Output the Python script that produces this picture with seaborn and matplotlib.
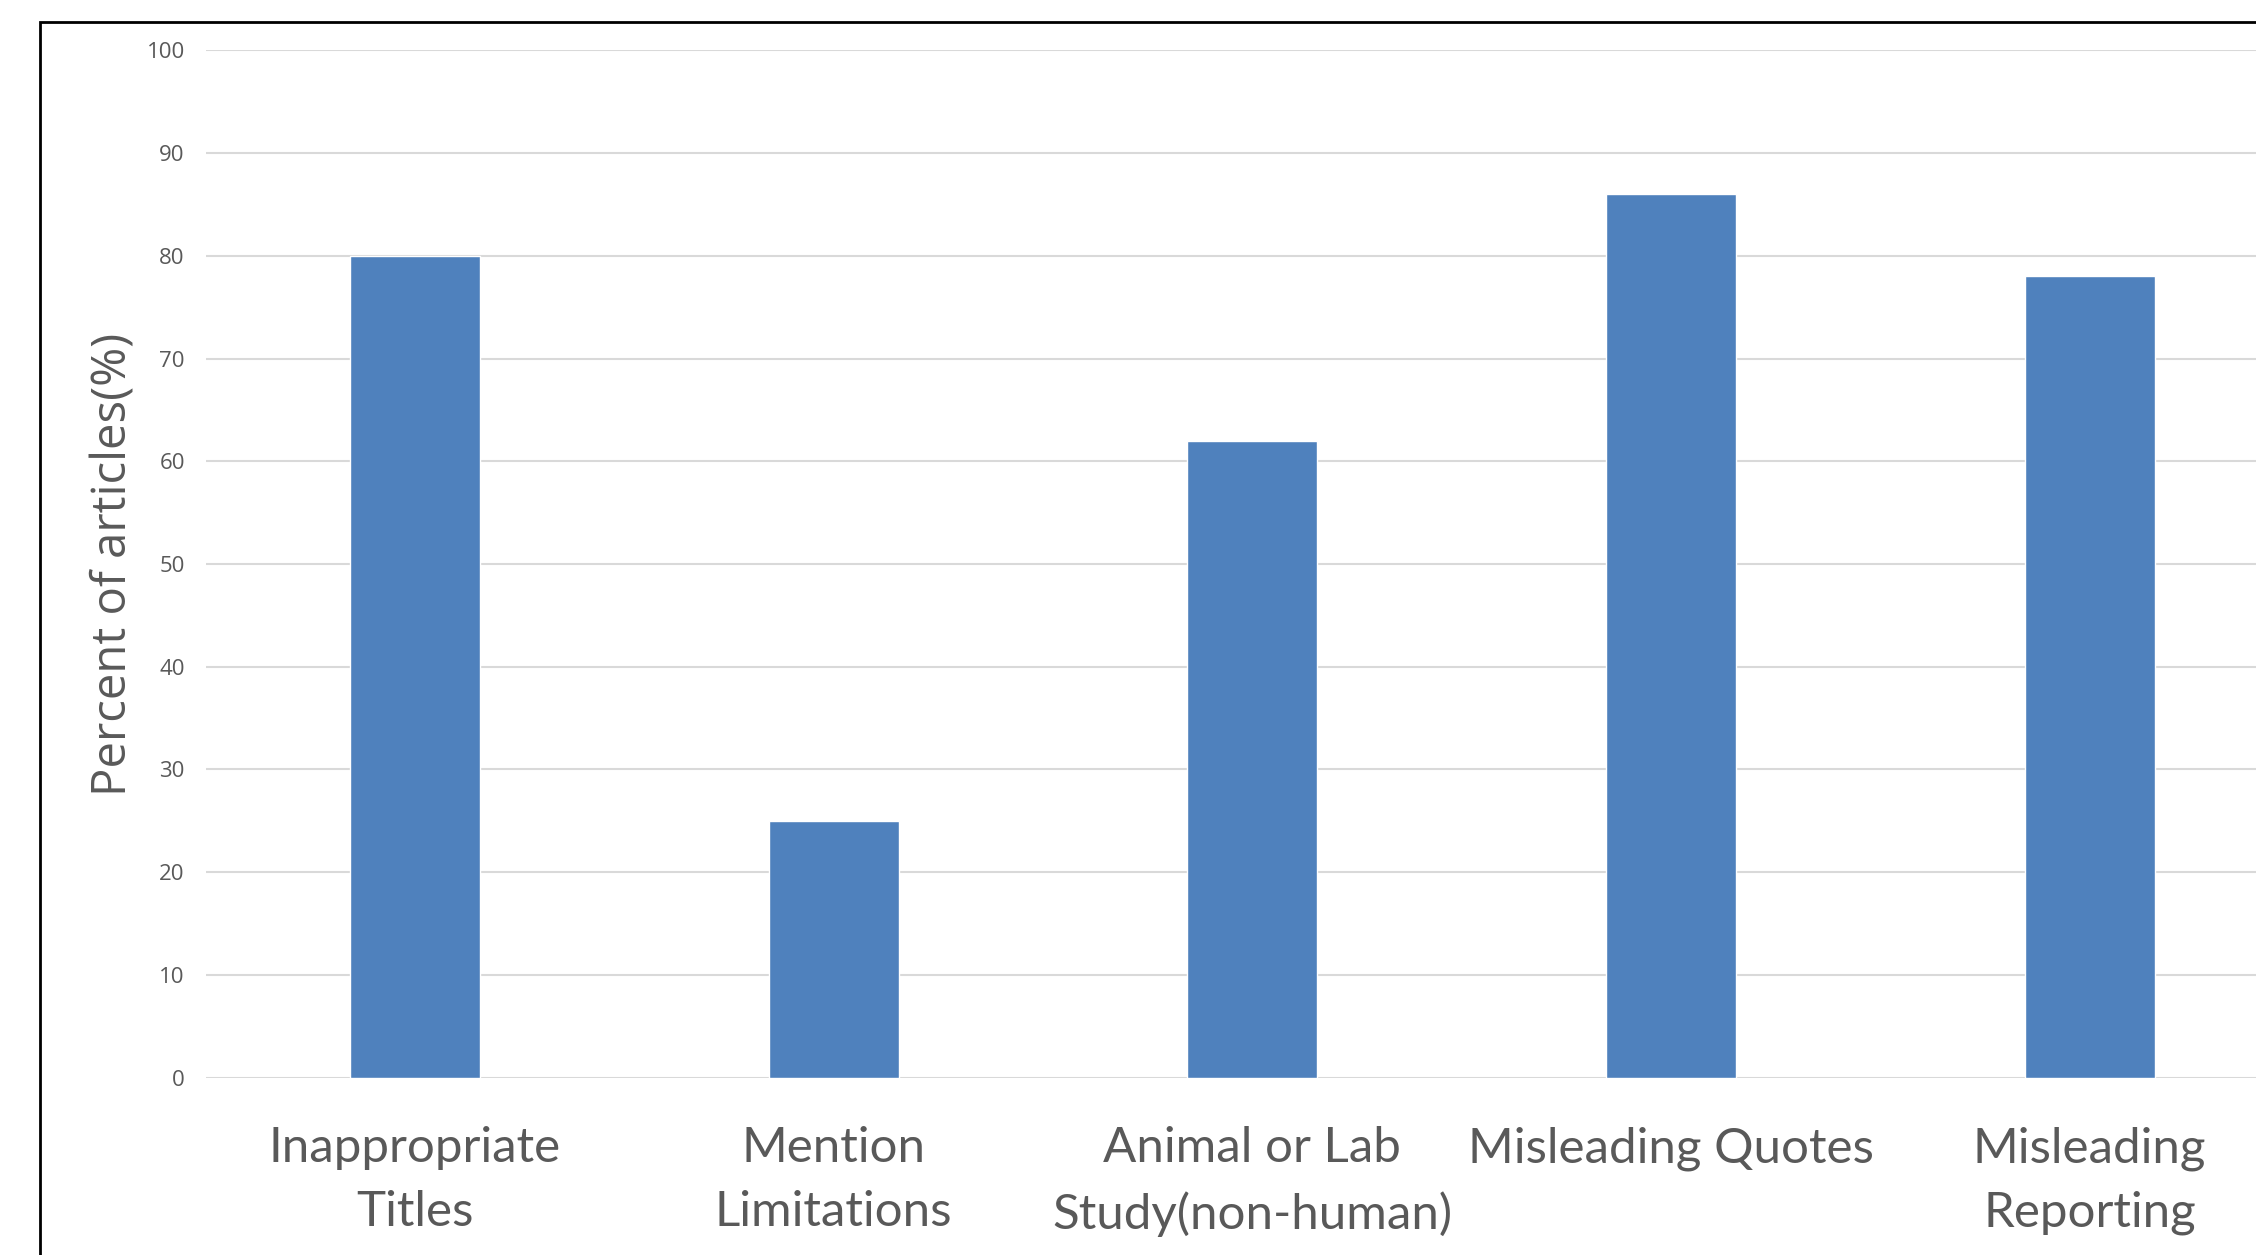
import matplotlib
matplotlib.use("Agg")
import matplotlib.pyplot as plt
import seaborn as sns
import pandas as pd
from matplotlib.patches import Rectangle

categories = ["Inappropriate\nTitles", "Mention\nLimitations", "Animal or Lab\nStudy(non-human)",
              "Misleading Quotes", "Misleading\nReporting"]
values = [80, 25, 62, 86, 78]
yticks = [0, 10, 20, 30, 40, 50, 60, 70, 80, 90, 100]

sns.set_theme(style="white")
plt.rcParams['font.family'] = ['Open Sans', 'DejaVu Sans']

W, H = 2256, 1255
fig = plt.figure(figsize=(W / 100, H / 100), dpi=100)
ax_left, ax_right = 205.7, 2299.0
ax = fig.add_axes([ax_left / W, 177.4 / H, (ax_right - ax_left) / W, (1077.6 - 50.4) / H])

df = pd.DataFrame({"cat": categories, "val": values})
sns.barplot(data=df, x="cat", y="val", color="#4F81BD", saturation=1, width=0.31, ax=ax)

ax.set_ylim(0, 100)
ax.set_yticks(yticks)
ax.set_yticklabels([str(t) for t in yticks], fontsize=16, color="#595959")
ax.yaxis.grid(True, color="#D9D9D9", linewidth=1.5)
ax.set_axisbelow(True)
for s in ax.spines.values():
    s.set_visible(False)
ax.tick_params(axis="y", length=0, pad=15)
ax.tick_params(axis="x", length=0, pad=35)
for lbl in ax.get_xticklabels():
    lbl.set_fontfamily(["Lato", "DejaVu Sans"])
    lbl.set_fontsize(35.5)
    lbl.set_color("#595959")
    lbl.set_linespacing(1.56)
ax.set_xlabel("")
ax.set_ylabel("Percent of articles(%)", fontsize=34, color="#595959")
ax.yaxis.set_label_coords((137 - ax_left) / (ax_right - ax_left), 0.5)

# outer chart border (extends past the right and bottom of the image)
fig.patches.append(Rectangle((40 / W, -0.05), 1.1, 1 - 22 / H + 0.05, transform=fig.transFigure,
                             fill=False, edgecolor="black", linewidth=2, zorder=10))

fig.savefig("out.png", dpi=100, facecolor="white")
